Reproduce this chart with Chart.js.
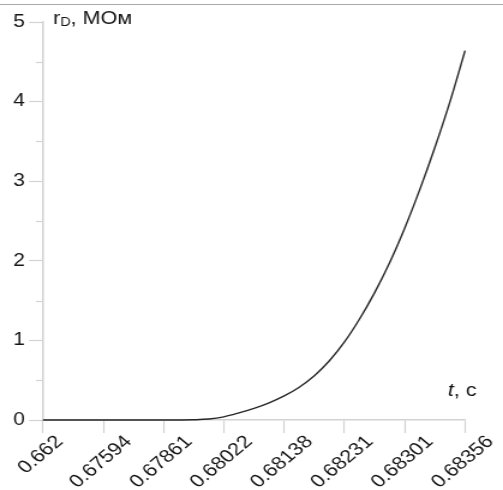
<!DOCTYPE html>
<html>
<head>
<meta charset="utf-8">
<script src="https://cdn.jsdelivr.net/npm/chart.js@4"></script>
<style>
  html, body { margin: 0; background: #fff; }
  #wrap { position: relative; width: 503px; height: 490px; overflow: hidden; }
  #rule { position: absolute; left: 0; top: 4px; width: 503px; height: 1px; background: #a9a9a9; }
  #rChart { position: absolute; left: 0; top: 0; transform: scaleX(1.2005); transform-origin: 0 0; }
</style>
</head>
<body>
<div id="wrap">
  <div id="rule"></div>
  <canvas id="rChart" width="419" height="490"></canvas>
</div>
<script>
// time axis labels, one per unit step of the axis
const tickLabels = ["0.662", "0.67594", "0.67861", "0.68022", "0.68138", "0.68231", "0.68301", "0.68356"];

// curve samples: position on the time axis (in label steps) and r_D in MOhm
const tPos = [0, 1, 2, 2.25, 2.5, 2.75, 3, 3.25, 3.5, 3.75, 4, 4.25, 4.5, 4.75, 5, 5.25, 5.5, 5.75, 6, 6.25, 6.5, 6.75, 7];
const rValues = [0, 0, 0, 0.0005, 0.003, 0.012, 0.04, 0.089, 0.146, 0.216, 0.302, 0.412, 0.556, 0.744, 0.981, 1.269, 1.6, 1.978, 2.412, 2.897, 3.426, 4.0, 4.64];

const yTicks = [0, 1, 2, 3, 4, 5];

const axisGray = "#d2d2d2";
const textColor = "#151515";
const fontFamily = '"Liberation Sans", Arial, sans-serif';

const points = tPos.map((t, i) => ({ x: t, y: rValues[i] }));

const axisDecor = {
  id: "axisDecor",
  afterDraw(chart) {
    const { ctx, chartArea, scales } = chart;
    const x = scales.x;
    const y = scales.y;
    ctx.save();

    // short half-step ticks on the value axis
    ctx.strokeStyle = axisGray;
    ctx.lineWidth = 1.2;
    for (let i = 0; i < yTicks.length - 1; i++) {
      const py = Math.round(y.getPixelForValue((yTicks[i] + yTicks[i + 1]) / 2)) + 0.5;
      ctx.beginPath();
      ctx.moveTo(chartArea.left - 5.8, py);
      ctx.lineTo(chartArea.left, py);
      ctx.stroke();
    }

    // slanted time labels, centred under their ticks
    ctx.fillStyle = textColor;
    ctx.font = "18px " + fontFamily;
    ctx.textAlign = "right";
    ctx.textBaseline = "middle";
    tickLabels.forEach((lbl, i) => {
      const w = ctx.measureText(lbl).width;
      ctx.save();
      ctx.translate(x.getPixelForValue(i) - 2 + w * 0.3536, chartArea.bottom + 19);
      ctx.rotate(-Math.PI / 4);
      ctx.fillText(lbl, 0, 0);
      ctx.restore();
    });

    // axis titles
    ctx.textAlign = "left";
    ctx.textBaseline = "alphabetic";
    let tx = chartArea.left + 8.4;
    ctx.font = "18px " + fontFamily;
    ctx.fillText("r", tx, 24);
    tx += ctx.measureText("r").width;
    ctx.font = "12px " + fontFamily;
    ctx.fillText("D", tx, 26);
    tx += ctx.measureText("D").width;
    ctx.font = "18px " + fontFamily;
    ctx.fillText(", МОм", tx, 24);

    let sx = chartArea.right - 14.4;
    ctx.font = "italic 18px " + fontFamily;
    ctx.fillText("t", sx, 396);
    sx += ctx.measureText("t").width;
    ctx.font = "18px " + fontFamily;
    ctx.fillText(", с", sx, 396);

    ctx.restore();
  },
};

new Chart(document.getElementById("rChart"), {
  type: "line",
  data: {
    datasets: [
      {
        data: points,
        borderColor: "#262626",
        borderWidth: 1.4,
        pointRadius: 0,
        fill: false,
        cubicInterpolationMode: "monotone",
        clip: false,
      },
    ],
  },
  options: {
    responsive: false,
    animation: false,
    events: [],
    layout: { padding: { top: 22, right: 31.6, left: 0, bottom: 0 } },
    plugins: { legend: { display: false }, tooltip: { enabled: false } },
    scales: {
      x: {
        type: "linear",
        min: 0,
        max: tickLabels.length - 1,
        afterFit(scale) {
          scale.height = 70;
        },
        ticks: { stepSize: 1, display: false },
        grid: {
          drawOnChartArea: false,
          tickLength: 13,
          tickColor: axisGray,
          tickWidth: 1.2,
        },
        border: { color: axisGray, width: 1.5 },
      },
      y: {
        min: yTicks[0],
        max: yTicks[yTicks.length - 1],
        afterFit(scale) {
          scale.width = 35.8;
        },
        afterBuildTicks(scale) {
          scale.ticks = yTicks.map((v) => ({ value: v }));
        },
        ticks: {
          color: textColor,
          padding: 3.4,
          font: { family: fontFamily, size: 17.5 },
        },
        grid: {
          drawOnChartArea: false,
          tickLength: 11.6,
          tickColor: axisGray,
          tickWidth: 1.2,
        },
        border: { color: axisGray, width: 1.5 },
      },
    },
  },
  plugins: [axisDecor],
});
</script>
</body>
</html>
